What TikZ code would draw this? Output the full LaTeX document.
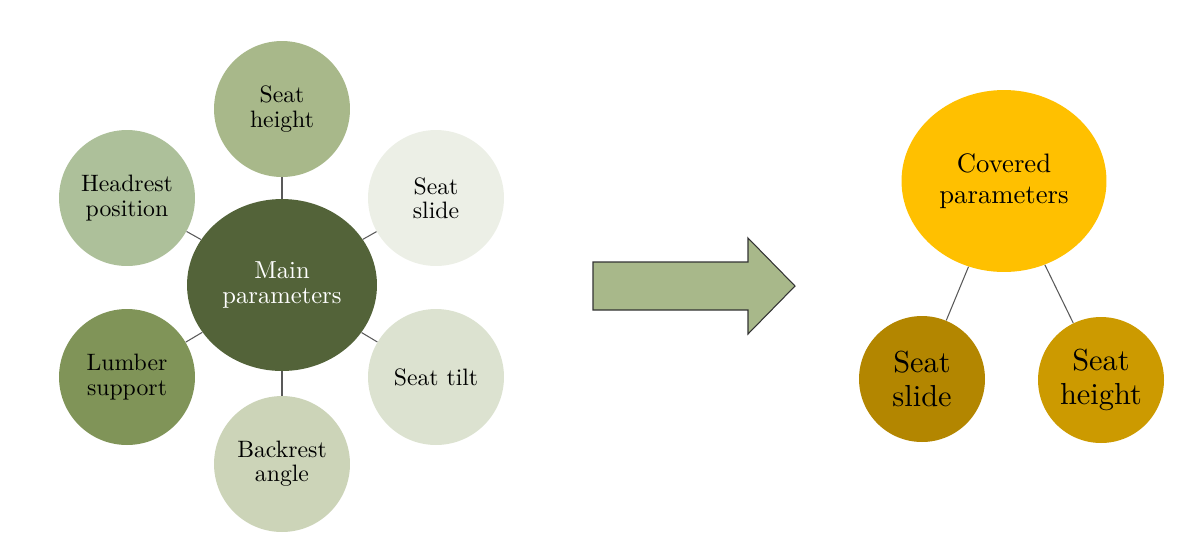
\documentclass[tikz,border=0pt]{standalone}
\usepackage{amsmath}
\usepackage{fontspec}
\setmainfont{lmroman10-regular}[Extension=.otf]
\usepackage[table]{xcolor}
\usetikzlibrary{shapes.geometric}

\definecolor{mainGreen}{HTML}{536339}
\definecolor{heightGreen}{HTML}{A8B88A}
\definecolor{headGreen}{HTML}{ADC09A}
\definecolor{slideGreen}{HTML}{ECEFE6}
\definecolor{tiltGreen}{HTML}{DCE2D0}
\definecolor{backGreen}{HTML}{CCD4B8}
\definecolor{lumberGreen}{HTML}{809458}
\definecolor{coveredGold}{HTML}{FFC000}
\definecolor{slideGold}{HTML}{B38600}
\definecolor{heightGold}{HTML}{CC9A00}
\definecolor{linkGray}{HTML}{595959}

\begin{document}
\begin{tikzpicture}[x=0.02cm, y=-0.02cm,
    param/.style={circle, inner sep=0pt, minimum size=2.72cm, align=center, font=\fontsize{13.5}{13.8}\selectfont},
    sub/.style={circle, inner sep=0pt, minimum size=2.52cm, align=center, font=\fontsize{17.3}{19.6}\selectfont},
    link/.style={draw=linkGray, line width=0.6pt}]
      \useasboundingbox (0,0) rectangle (1179,539);

      \node[ellipse, fill=mainGreen, text=white, inner sep=0pt, minimum width=3.8cm, minimum height=3.44cm, align=center, font=\fontsize{14}{13.8}\selectfont] (main) at (282,285) {Main\\parameters};

      \node[param, fill=heightGreen] (height) at (282,109) {Seat\\height};
      \node[param, fill=slideGreen] (slide) at (436,198) {Seat\\slide};
      \node[param, fill=tiltGreen] (tilt) at (436,377) {Seat tilt};
      \node[param, fill=backGreen] (back) at (282,464) {Backrest\\angle};
      \node[param, fill=lumberGreen] (lumber) at (127,377) {Lumber\\support};
      \node[param, fill=headGreen] (head) at (127,198) {Headrest\\position};

      \draw[link] (main) -- (height);
      \draw[link] (main) -- (slide);
      \draw[link] (main) -- (tilt);
      \draw[link] (main) -- (back);
      \draw[link] (main) -- (lumber);
      \draw[link] (main) -- (head);

      % big arrow
      \draw[fill=heightGreen, draw=black!80, line width=0.6pt] (593,262) -- (748,262) -- (748,238) -- (795,286) -- (748,334) -- (748,310) -- (593,310) -- cycle;

      \node[ellipse, fill=coveredGold, inner sep=0pt, minimum width=4.1cm, minimum height=3.64cm, align=center, font=\fontsize{15.2}{17.5}\selectfont] (covered) at (1004,181) {Covered\\parameters};
      \node[sub, fill=slideGold] (cslide) at (922,379) {Seat\\slide};
      \node[sub, fill=heightGold] (cheight) at (1101,380) {Seat\\height};

      \draw[link] (covered) -- (cslide);
      \draw[link] (covered) -- (cheight);
\end{tikzpicture}
\end{document}
